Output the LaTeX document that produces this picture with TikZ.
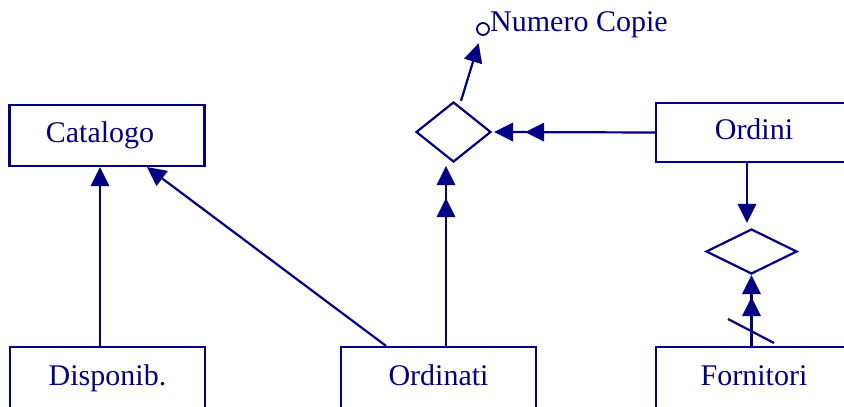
\documentclass[tikz,border=0pt]{standalone}
\usepackage{fontspec}
\setmainfont{Liberation Serif}
\usetikzlibrary{arrows.meta,shapes.geometric}
\definecolor{navy}{RGB}{0,0,128}
\begin{document}
\begin{tikzpicture}[x=1pt,y=-1pt,
  every node/.style={font=\fontsize{30pt}{36pt}\selectfont, text=navy},
  box/.style={draw=navy, line width=2.2pt, rectangle, inner sep=0pt, text height=20pt, text depth=6pt},
  dia/.style={draw=navy, line width=2.2pt, diamond, inner sep=0pt},
  conn/.style={draw=navy, line width=2.2pt},
  arr/.style={conn, -{Triangle[length=19pt,width=19pt,line width=0pt]}},
  dbl/.style={conn, -{Triangle[length=19pt,width=19pt,line width=0pt,sep=#1]Triangle[length=19pt,width=19pt,line width=0pt]}}
]
\useasboundingbox (0,0) rectangle (844,407);
% boxes
\node[box, minimum width=195pt, minimum height=61pt] (cat) at (107,135.5) {Catalogo\kern14pt};
\node[box, minimum width=195pt, minimum height=62pt] (disp) at (107.5,378) {Disponib.};
\node[box, minimum width=195pt, minimum height=62pt] (ordn) at (438.5,378) {Ordinati};
\node[box, minimum width=196pt, minimum height=62pt] (forn) at (754,378) {Fornitori};
\node[box, minimum width=196pt, minimum height=59pt] (ordi) at (754,132.5) {Ordini};
% diamonds
\node[dia, minimum width=75pt, minimum height=60pt] (d1) at (453.5,132) {};
\node[dia, minimum width=91pt, minimum height=45pt] (d2) at (751.5,251.5) {};
% attribute
\node[draw=navy, line width=1.8pt, circle, minimum size=12pt, inner sep=0pt] (nc) at (483,29) {};
\node[anchor=base west, inner sep=0pt] (nctext) at (490,31) {Numero Copie};
% connectors
\draw[arr] ([xshift=-7.5pt]disp.north) -- ([xshift=-7pt]cat.south);
\draw[arr] ([xshift=-52.5pt]ordn.north) -- ([xshift=40pt]cat.south);
\draw[dbl=13pt] ([xshift=7.5pt]ordn.north) -- ([xshift=-7.5pt,yshift=-3pt]d1.south);
\draw[dbl=12pt] (ordi.west) -- ([xshift=2pt]d1.east);
\draw[arr, shorten >=8pt] ([xshift=7.5pt]d1.north) -- (nc);
\draw[arr] ([xshift=-7pt]ordi.south) -- ([xshift=-4.5pt,yshift=5pt]d2.north);
\draw[dbl=3pt] ([xshift=-2.5pt]forn.north) -- (d2.south);
\coordinate (s1) at (728,319);
\coordinate (s2) at (774,343);
\draw[conn] (s1) -- (s2);
\end{tikzpicture}
\end{document}
